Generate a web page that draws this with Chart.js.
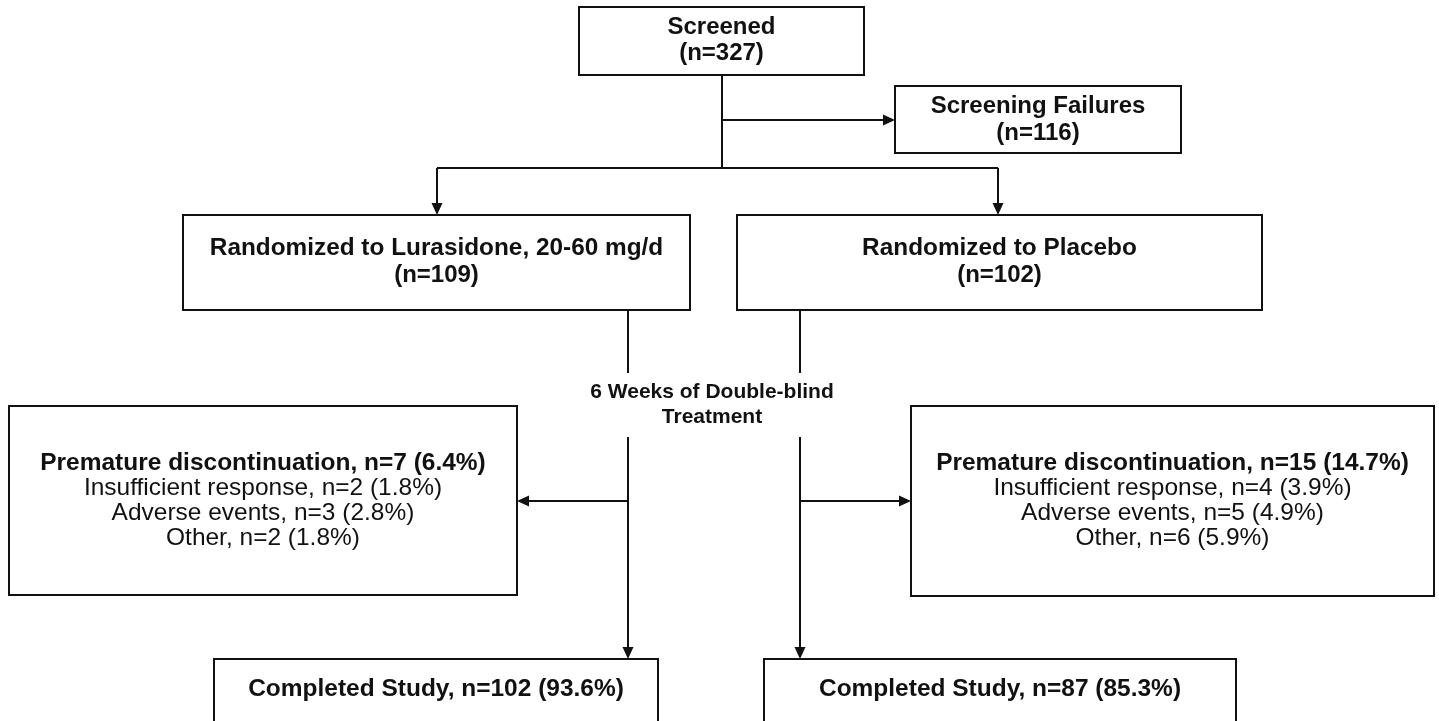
<!DOCTYPE html>
<html>
<head>
<meta charset="utf-8">
<script src="https://cdn.jsdelivr.net/npm/chart.js@4.4.1/dist/chart.umd.min.js"></script>
<style>
    html, body { margin: 0; padding: 0; background: #ffffff; }
    #wrap { width: 1439px; height: 721px; position: relative; }
</style>
</head>
<body>
<div id="wrap"><canvas id="flowChart"></canvas></div>
<script>
// Study flow data
const stageTitles = ['Screened', 'Screening Failures', 'Randomized to Lurasidone, 20-60 mg/d', 'Randomized to Placebo'];
const stageCounts = [327, 116, 109, 102];
const armNames = ['Lurasidone', 'Placebo'];
const discontinuedCounts = [7, 15];
const discontinuedPct = [6.4, 14.7];
const reasonLabels = ['Insufficient response', 'Adverse events', 'Other'];
const lurasidoneReasonCounts = [2, 3, 2];
const lurasidoneReasonPct = [1.8, 2.8, 1.8];
const placeboReasonCounts = [4, 5, 6];
const placeboReasonPct = [3.9, 4.9, 5.9];
const completedCounts = [102, 87];
const completedPct = [93.6, 85.3];
const treatmentLabel = ['6 Weeks of Double-blind', 'Treatment'];

// Layout (chart units = pixels of the 1439x721 frame)
const BOLD = 'bold 24px "Liberation Sans", Arial, sans-serif';
const BOLD_S = 'bold 24px "Liberation Sans", Arial, sans-serif';
const REG_S = '24px "Liberation Sans", Arial, sans-serif';
const STRETCH = 1.02;

const boxes = [
    { x1: 579, x2: 864, y1: 7, y2: 75, lines: [[stageTitles[0], BOLD, 27, 1], ['(n=' + stageCounts[0] + ')', BOLD, 53, 1]] },
    { x1: 895, x2: 1181, y1: 86, y2: 153, lines: [[stageTitles[1], BOLD, 106, 1], ['(n=' + stageCounts[1] + ')', BOLD, 133, 1]] },
    { x1: 183, x2: 690, y1: 215, y2: 310, lines: [[stageTitles[2], BOLD, 248, 1.015], ['(n=' + stageCounts[2] + ')', BOLD, 275, 1]] },
    { x1: 737, x2: 1262, y1: 215, y2: 310, lines: [[stageTitles[3], BOLD, 248, 1.015], ['(n=' + stageCounts[3] + ')', BOLD, 275, 1]] },
    { x1: 9, x2: 517, y1: 406, y2: 595, lines: discLines(0, lurasidoneReasonCounts, lurasidoneReasonPct) },
    { x1: 911, x2: 1434, y1: 406, y2: 596, lines: discLines(1, placeboReasonCounts, placeboReasonPct) },
    { x1: 214, x2: 658, y1: 659, y2: 740, lines: [['Completed Study, n=' + completedCounts[0] + ' (' + completedPct[0] + '%)', BOLD_S, 689, STRETCH]] },
    { x1: 764, x2: 1236, y1: 659, y2: 740, lines: [['Completed Study, n=' + completedCounts[1] + ' (' + completedPct[1] + '%)', BOLD_S, 689, STRETCH]] }
];

function discLines(arm, counts, pct) {
    const rows = [['Premature discontinuation, n=' + discontinuedCounts[arm] + ' (' + discontinuedPct[arm] + '%)', BOLD_S, 463, STRETCH]];
    reasonLabels.forEach((label, i) => {
        rows.push([label + ', n=' + counts[i] + ' (' + pct[i] + '%)', REG_S, 488 + i * 25, STRETCH]);
    });
    return rows;
}

// connector segments: [x1, y1, x2, y2, arrowAtEnd]
const connectors = [
    [722, 75, 722, 168, false],
    [722, 120, 895, 120, true],
    [437, 168, 998, 168, false],
    [437, 168, 437, 215, true],
    [998, 168, 998, 215, true],
    [628, 310, 628, 373, false],
    [800, 310, 800, 373, false],
    [628, 437, 628, 659, true],
    [800, 437, 800, 659, true],
    [628, 501, 517, 501, true],
    [800, 501, 911, 501, true]
];

const flowPlugin = {
    id: 'flowPlugin',
    afterDraw(chart) {
        const ctx = chart.ctx;
        const xs = chart.scales.x;
        const ys = chart.scales.y;
        const px = v => xs.getPixelForValue(v);
        const py = v => ys.getPixelForValue(v);

        ctx.save();
        ctx.strokeStyle = '#111111';
        ctx.fillStyle = '#111111';
        ctx.lineWidth = 2;

        // connectors
        connectors.forEach(c => {
            const x1 = px(c[0]), y1 = py(c[1]), x2 = px(c[2]), y2 = py(c[3]);
            const ang = Math.atan2(y2 - y1, x2 - x1);
            const head = c[4] ? 11 : 0;
            ctx.beginPath();
            ctx.moveTo(x1, y1);
            ctx.lineTo(x2 - Math.cos(ang) * head, y2 - Math.sin(ang) * head);
            ctx.stroke();
            if (c[4]) {
                ctx.beginPath();
                ctx.moveTo(x2, y2);
                ctx.lineTo(x2 - Math.cos(ang) * 12 + Math.sin(ang) * 5.5, y2 - Math.sin(ang) * 12 - Math.cos(ang) * 5.5);
                ctx.lineTo(x2 - Math.cos(ang) * 12 - Math.sin(ang) * 5.5, y2 - Math.sin(ang) * 12 + Math.cos(ang) * 5.5);
                ctx.closePath();
                ctx.fill();
            }
        });

        // boxes
        boxes.forEach(b => {
            const x1 = px(b.x1), x2 = px(b.x2), y1 = py(b.y1), y2 = py(b.y2);
            ctx.fillStyle = '#ffffff';
            ctx.fillRect(x1, y1, x2 - x1, y2 - y1);
            ctx.strokeRect(x1, y1, x2 - x1, y2 - y1);
            ctx.fillStyle = '#111111';
            ctx.textAlign = 'center';
            ctx.textBaseline = 'middle';
            b.lines.forEach(l => {
                ctx.save();
                ctx.font = l[1];
                ctx.translate((x1 + x2) / 2, py(l[2]));
                ctx.scale(l[3], 1);
                ctx.fillText(l[0], 0, 0);
                ctx.restore();
            });
        });

        // treatment label
        ctx.font = 'bold 21px "Liberation Sans", Arial, sans-serif';
        ctx.fillText(treatmentLabel[0], px(712), py(392));
        ctx.fillText(treatmentLabel[1], px(712), py(417));
        ctx.restore();
    }
};

new Chart(document.getElementById('flowChart'), {
    type: 'scatter',
    data: { datasets: [{ label: 'flow', data: [], pointRadius: 0 }] },
    options: {
        responsive: true,
        maintainAspectRatio: false,
        animation: false,
        layout: { padding: 0 },
        plugins: { legend: { display: false }, tooltip: { enabled: false } },
        scales: {
            x: { type: 'linear', min: 0, max: 1439, display: false },
            y: { type: 'linear', min: 0, max: 721, reverse: true, display: false }
        }
    },
    plugins: [flowPlugin]
});
</script>
</body>
</html>
